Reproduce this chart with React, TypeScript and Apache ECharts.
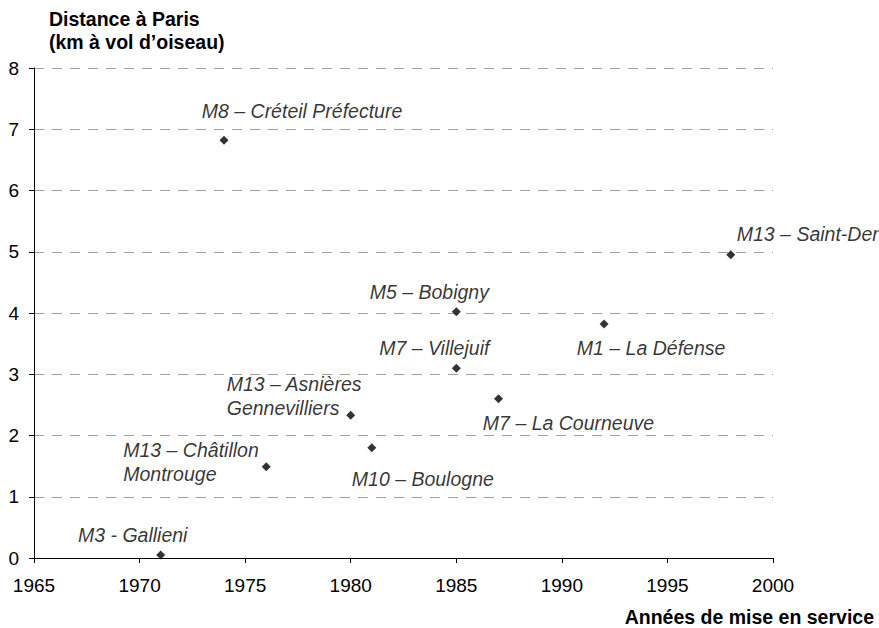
import React, { useEffect, useRef } from "react";
import * as echarts from "echarts";

const years = [1971, 1974, 1976, 1980, 1981, 1985, 1985, 1987, 1992, 1998];
const distances = [0.05, 6.82, 1.49, 2.33, 1.8, 3.1, 4.02, 2.6, 3.82, 4.95];
const stationNames = [
  "M3 - Gallieni",
  "M8 – Créteil Préfecture",
  "M13 – Châtillon\nMontrouge",
  "M13 – Asnières\nGennevilliers",
  "M10 – Boulogne",
  "M7 – Villejuif",
  "M5 – Bobigny",
  "M7 – La Courneuve",
  "M1 – La Défense",
  "M13 – Saint-Denis",
];
const xTicks = { min: 1965, max: 2000, step: 5 };
const yTicks = { min: 0, max: 8, step: 1 };
const yAxisTitle = "Distance à Paris\n(km à vol d’oiseau)";
const xAxisTitle = "Années de mise en service";

// label placement relative to each point (layout only)
const labelPlacement: { dx: number; dy: number; align: string }[] = [
  { dx: -28, dy: -20, align: "center" },
  { dx: 78, dy: -29, align: "center" },
  { dx: -143, dy: -5, align: "left" },
  { dx: -124, dy: -19, align: "left" },
  { dx: 51, dy: 31, align: "center" },
  { dx: -22, dy: -20, align: "center" },
  { dx: -27, dy: -20, align: "center" },
  { dx: 70, dy: 24, align: "center" },
  { dx: 47, dy: 24, align: "center" },
  { dx: 6, dy: -21, align: "left" },
];

const FONT = "'Liberation Sans', Arial, sans-serif";

export default function App() {
  const ref = useRef<HTMLDivElement>(null);
  useEffect(() => {
    if (!ref.current) return;
    const chart = echarts.init(ref.current, null, { renderer: "svg" });
    const data = years.map((yr, i) => ({
      value: [yr, distances[i]],
      name: stationNames[i],
      label: {
        show: true,
        position: "inside",
        align: labelPlacement[i].align,
        verticalAlign: "middle",
        offset: [labelPlacement[i].dx, labelPlacement[i].dy],
        formatter: stationNames[i],
      },
    }));
    chart.setOption({
      animation: false,
      backgroundColor: "#ffffff",
      textStyle: { fontFamily: FONT },
      grid: { left: 34, right: 106, top: 68, bottom: 70, containLabel: false },
      xAxis: {
        type: "value",
        min: xTicks.min,
        max: xTicks.max,
        interval: xTicks.step,
        name: xAxisTitle,
        nameLocation: "end",
        nameGap: 101,
        nameTextStyle: {
          fontFamily: FONT,
          fontSize: 19.5,
          fontWeight: "bold",
          color: "#000",
          align: "right",
          verticalAlign: "top",
          padding: [49, 0, 0, 0],
        },
        axisLine: { show: true, lineStyle: { color: "#000", width: 1 } },
        axisTick: { show: true, inside: false, length: 5, lineStyle: { color: "#000" } },
        axisLabel: {
          color: "#000",
          fontFamily: FONT,
          fontSize: 19,
          margin: 18,
          formatter: (v: number) => String(v),
        },
        splitLine: { show: false },
      },
      yAxis: {
        type: "value",
        min: yTicks.min,
        max: yTicks.max,
        interval: yTicks.step,
        name: yAxisTitle,
        nameLocation: "end",
        nameGap: 15,
        nameTextStyle: {
          fontFamily: FONT,
          fontSize: 19.5,
          fontWeight: "bold",
          color: "#000",
          align: "left",
          verticalAlign: "bottom",
          lineHeight: 23,
          padding: [0, 0, 0, 15],
        },
        axisLine: { show: true, lineStyle: { color: "#000", width: 1 } },
        axisTick: { show: true, inside: false, length: 5, lineStyle: { color: "#000" } },
        axisLabel: { color: "#000", fontFamily: FONT, fontSize: 19, margin: 15 },
        splitLine: {
          show: true,
          lineStyle: { color: "#a0a0a0", width: 1, type: [10, 8] },
        },
      },
      series: [
        {
          type: "scatter",
          symbol: "diamond",
          symbolSize: 9,
          itemStyle: { color: "#000" },
          label: {
            show: true,
            color: "#000",
            fontFamily: FONT,
            fontSize: 19.5,
            fontStyle: "italic",
            lineHeight: 24,
          },
          emphasis: { disabled: true },
          data,
        },
      ],
    });
    return () => chart.dispose();
  }, []);
  return (
    <div
      ref={ref}
      style={{ position: "fixed", left: 0, top: 0, width: 879, height: 628 }}
    />
  );
}
